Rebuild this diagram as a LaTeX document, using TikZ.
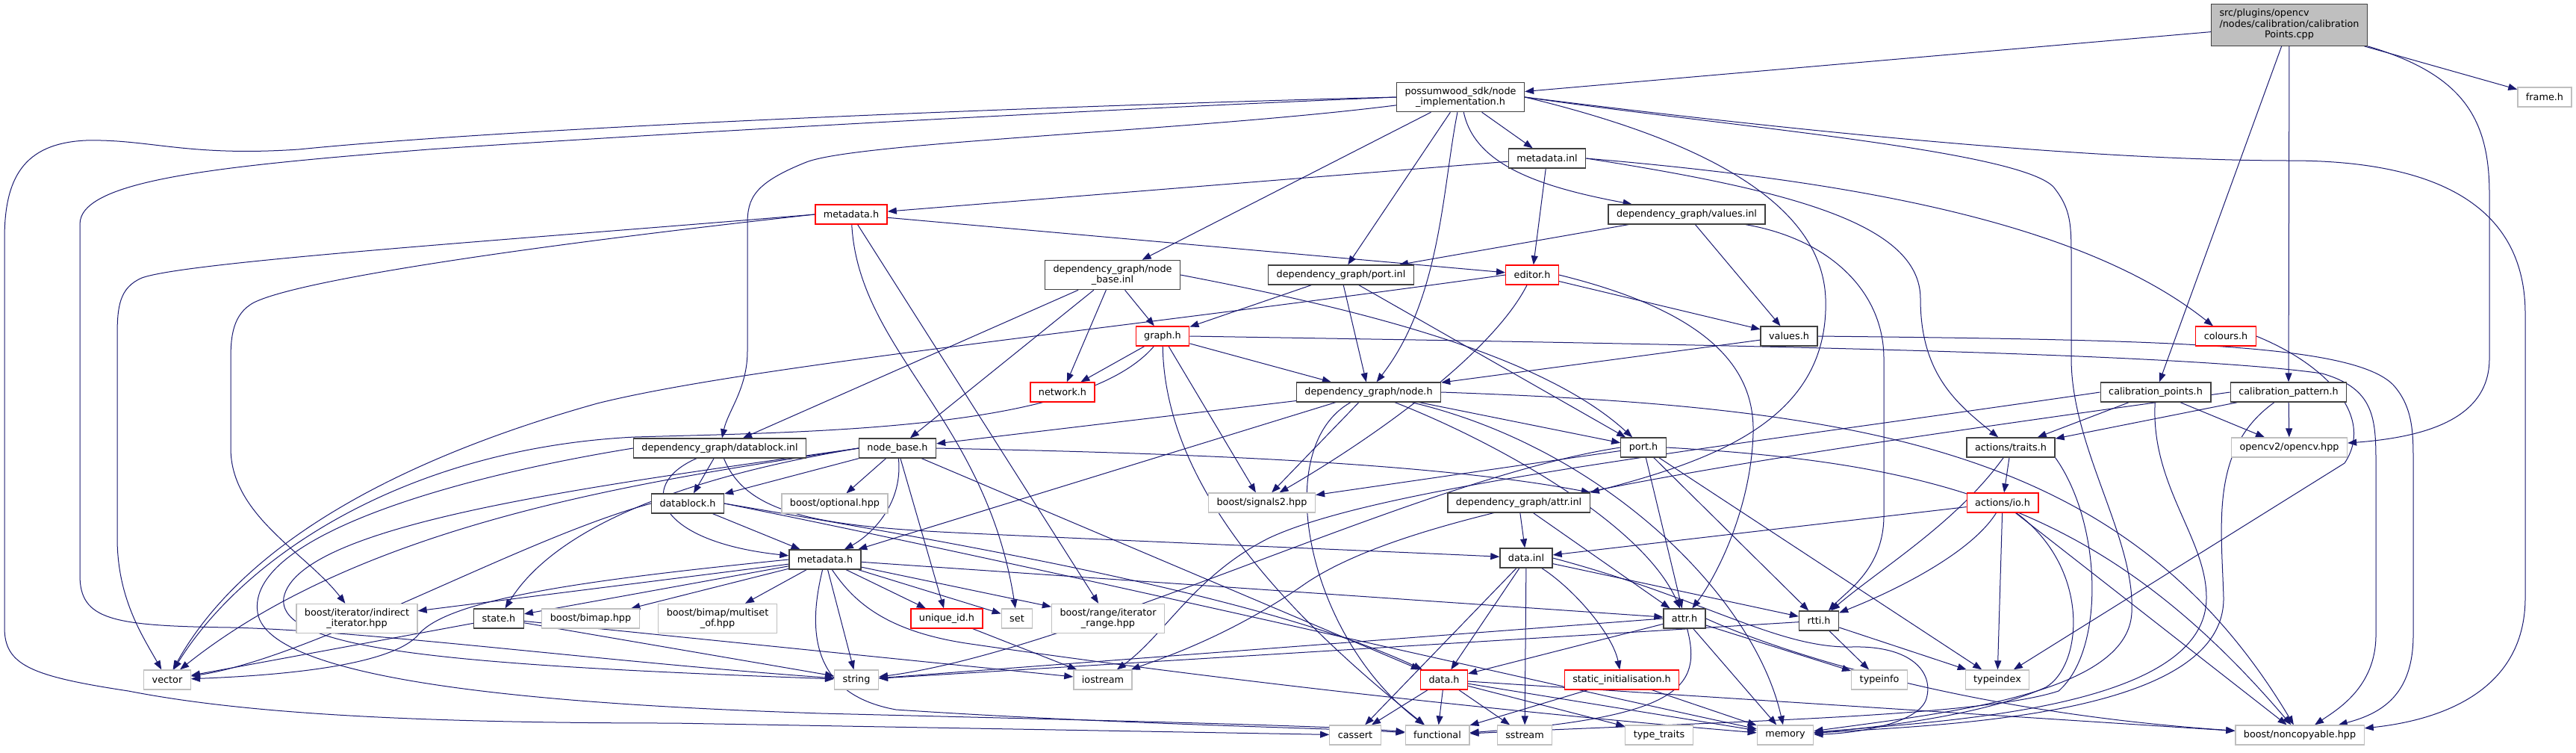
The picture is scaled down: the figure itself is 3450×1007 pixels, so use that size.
\documentclass[tikz,border=0pt]{standalone}
\usepackage{fontspec}
\setmainfont{DejaVu Sans}
\usetikzlibrary{arrows.meta}
\definecolor{edgeblue}{HTML}{191970}
\definecolor{docgray}{HTML}{404040}
\definecolor{extgray}{HTML}{BFBFBF}
\definecolor{truncred}{HTML}{FF0000}
\pgfdeclarelayer{edges}
\pgfsetlayers{edges,main}

\begin{document}
\begin{tikzpicture}[x=1pt, y=-1pt, every node/.style={font=\fontsize{12.8}{14.5}\selectfont}]
  \tikzset{
    docbox/.style={draw=docgray, fill=white, line width=1.3pt, inner xsep=11pt, inner ysep=6pt, minimum height=26pt, align=center},
    redbox/.style={docbox, draw=truncred},
    extbox/.style={docbox, draw=extgray},
    rootbox/.style={docbox, fill=extgray},
    inc/.style={draw=edgeblue, line width=1pt, -{Triangle[length=12pt, width=9pt]}}
  }
  \useasboundingbox (0,0) rectangle (3450,1007);

  % files
  \node[rootbox] (src) at (3066,33.5) {\begin{tabular}{@{}l@{}}src/plugins/opencv\\/nodes/calibration/calibration\\\multicolumn{1}{@{}c@{}}{Points.cpp}\end{tabular}};
  \node[extbox] (frameh) at (3408,130) {frame.h};
  \node[docbox] (nimpl) at (1956,130) {possumwood\_sdk/node\\\_implementation.h};
  \node[docbox] (metainl) at (2072,212) {metadata.inl};
  \node[redbox] (metared) at (1140,287) {metadata.h};
  \node[docbox] (valinl) at (2259,287) {dependency\_graph/values.inl};
  \node[docbox] (nbinl) at (1490,368) {dependency\_graph/node\\\_base.inl};
  \node[docbox] (portinl) at (1796,368) {dependency\_graph/port.inl};
  \node[redbox] (editor) at (2052,368) {editor.h};
  \node[redbox] (graphh) at (1557,450) {graph.h};
  \node[docbox] (valuesh) at (2396,450) {values.h};
  \node[redbox] (colours) at (2981,450) {colours.h};
  \node[redbox] (network) at (1423,525) {network.h};
  \node[docbox] (nodeh) at (1833,525) {dependency\_graph/node.h};
  \node[docbox] (calpts) at (2887,525) {calibration\_points.h};
  \node[docbox] (calpat) at (3065,525) {calibration\_pattern.h};
  \node[docbox] (dbinl) at (964,600) {dependency\_graph/datablock.inl};
  \node[docbox] (nodebase) at (1202,600) {node\_base.h};
  \node[docbox] (porth) at (2201,599) {port.h};
  \node[docbox] (traits) at (2693,599) {actions/traits.h};
  \node[extbox] (opencv) at (3066,599) {opencv2/opencv.hpp};
  \node[docbox] (dbh) at (921,674) {datablock.h};
  \node[extbox] (optional) at (1118,674) {boost/optional.hpp};
  \node[extbox] (signals) at (1690,673) {boost/signals2.hpp};
  \node[docbox] (attrinl) at (2034,673) {dependency\_graph/attr.inl};
  \node[redbox] (iohdr) at (2682,673) {actions/io.h};
  \node[docbox] (metablk) at (1105,749) {metadata.h};
  \node[docbox] (datainl) at (2044,747) {data.inl};
  \node[extbox] (indirect) at (478,828) {boost/iterator/indirect\\\_iterator.hpp};
  \node[docbox] (stateh) at (668,828) {state.h};
  \node[extbox] (bimap) at (791,828) {boost/bimap.hpp};
  \node[extbox] (multiset) at (961,828) {boost/bimap/multiset\\\_of.hpp};
  \node[redbox] (uniqueid) at (1268,828) {unique\_id.h};
  \node[extbox] (setx) at (1362,828) {set};
  \node[extbox] (irange) at (1484,828) {boost/range/iterator\\\_range.hpp};
  \node[docbox] (attrh) at (2256,828) {attr.h};
  \node[docbox] (rttih) at (2436,831) {rtti.h};
  \node[extbox] (vectorx) at (224,910) {vector};
  \node[extbox] (stringx) at (1147,910) {string};
  \node[extbox] (iostream) at (1477,910) {iostream};
  \node[redbox] (datah) at (1934,910) {data.h};
  \node[redbox] (staticinit) at (2172,910) {static\_initialisation.h};
  \node[extbox] (typeinfo) at (2517,910) {typeinfo};
  \node[extbox] (typeindex) at (2675,910) {typeindex};
  \node[extbox] (cassert) at (1815,984) {cassert};
  \node[extbox] (functional) at (1925,984) {functional};
  \node[extbox] (sstream) at (2042,984) {sstream};
  \node[extbox] (typetraits) at (2222,984) {type\_traits};
  \node[extbox] (memory) at (2391,984) {memory};
  \node[extbox] (noncopy) at (3080,984) {boost/noncopyable.hpp};

  \begin{pgfonlayer}{edges}
  % calibrationPoints.cpp
  \draw[inc] (src) -- (nimpl);
  \draw[inc] (src) -- (frameh);
  \draw[inc] (src) -- (calpts);
  \draw[inc] (src) -- (calpat);
  \draw[inc] (src.south east) .. controls (3300,100) and (3334,160) .. (3334,260) -- (3334,480) .. controls (3334,560) and (3250,585) .. (opencv);

  % node_implementation.h
  \draw[inc] (nimpl) -- (metainl);
  \draw[inc] (nimpl) .. controls (1975,220) and (2060,250) .. (valinl);
  \draw[inc] (nimpl) -- (portinl);
  \draw[inc] (nimpl) .. controls (1932,250) and (1930,400) .. (nodeh);
  \draw[inc] (nimpl) -- (nbinl);
  \draw[inc] (nimpl) .. controls (1600,175) and (1150,190) .. (1080,217) .. controls (1010,245) and (1001,265) .. (1001,300) -- (1001,470) .. controls (1001,520) and (975,550) .. (dbinl);
  \draw[inc] (nimpl.west) .. controls (1400,142) and (700,170) .. (400,200) .. controls (250,210) and (200,186) .. (115,188) .. controls (30,192) and (6,240) .. (6,320) -- (6,840) .. controls (6,890) and (40,905) .. (172,925) .. controls (300,950) and (500,968) .. (900,968) -- (cassert);
  \draw[inc] (nimpl.west) .. controls (1400,150) and (900,178) .. (574,200) .. controls (300,222) and (107,240) .. (107,300) -- (107,770) .. controls (107,830) and (150,838) .. (310,840) .. controls (500,845) and (800,885) .. (stringx);
  \draw[inc] (nimpl.east) .. controls (2400,175) and (2800,215) .. (3067,215) .. controls (3300,215) and (3382,300) .. (3382,420) -- (3382,800) .. controls (3382,930) and (3260,965) .. (noncopy);
  \draw[inc] (nimpl.east) .. controls (2300,168) and (2700,200) .. (2750,250) .. controls (2774,280) and (2774,300) .. (2774,350) -- (2774,480) .. controls (2774,600) and (2860,720) .. (2855,820) .. controls (2850,930) and (2600,955) .. (memory);
  \draw[inc] (nimpl.east) .. controls (2250,180) and (2440,260) .. (2445,400) .. controls (2450,560) and (2300,615) .. (attrinl.north east);

  % metadata.inl
  \draw[inc] (metainl) -- (metared);
  \draw[inc] (metainl) -- (editor);
  \draw[inc] (metainl.east) .. controls (2450,240) and (2780,290) .. (colours);
  \draw[inc] (metainl.east) .. controls (2400,255) and (2572,300) .. (2572,400) .. controls (2572,500) and (2620,540) .. (traits);

  % metadata.h (truncated)
  \draw[inc] (metared) -- (editor);
  \draw[inc] (metared) .. controls (1150,470) and (1320,560) .. (setx);
  \draw[inc] (metared) -- (irange);
  \draw[inc] (metared.west) .. controls (700,320) and (250,350) .. (190,372) .. controls (160,385) and (157,410) .. (157,450) -- (157,720) .. controls (157,800) and (190,850) .. (vectorx);
  \draw[inc] (metared.west) .. controls (700,330) and (400,375) .. (340,405) .. controls (312,420) and (309,450) .. (309,480) -- (309,600) .. controls (309,690) and (410,740) .. (indirect);

  % node_base.inl, values.inl, port.inl
  \draw[inc] (nbinl) -- (graphh);
  \draw[inc] (nbinl) -- (network);
  \draw[inc] (nbinl) -- (dbinl);
  \draw[inc] (nbinl) -- (nodebase);
  \draw[inc] (nbinl.east) .. controls (1800,410) and (2060,470) .. (porth);
  \draw[inc] (valinl) -- (portinl);
  \draw[inc] (valinl) -- (valuesh);
  \draw[inc] (valinl) .. controls (2450,320) and (2523,390) .. (2523,480) -- (2523,690) .. controls (2523,760) and (2475,790) .. (rttih);
  \draw[inc] (portinl) -- (graphh);
  \draw[inc] (portinl) -- (nodeh);
  \draw[inc] (portinl) -- (porth);

  % editor.h, values.h
  \draw[inc] (editor) -- (valuesh);
  \draw[inc] (editor.west) .. controls (1500,440) and (1000,490) .. (800,540) .. controls (550,610) and (330,720) .. (vectorx);
  \draw[inc] (editor.east) .. controls (2300,420) and (2350,500) .. (2348,580) .. controls (2345,680) and (2300,770) .. (attrh);
  \draw[inc] (editor) .. controls (2000,470) and (1850,580) .. (signals);
  \draw[inc] (valuesh) -- (nodeh);
  \draw[inc] (valuesh.east) .. controls (2900,455) and (3150,460) .. (3205,515) .. controls (3232,545) and (3232,580) .. (3232,620) -- (3232,850) .. controls (3232,930) and (3190,955) .. (noncopy);

  % graph.h, colours.h
  \draw[inc] (graphh) -- (network);
  \draw[inc] (graphh) -- (nodeh);
  \draw[inc] (graphh) -- (signals);
  \draw[inc] (graphh) .. controls (1560,650) and (1720,820) .. (functional);
  \draw[inc] (graphh) .. controls (1450,575) and (1100,578) .. (850,585) .. controls (550,600) and (330,740) .. (vectorx);
  \draw[inc] (graphh.east) .. controls (2200,460) and (2900,470) .. (3110,500) .. controls (3180,520) and (3182,560) .. (3182,620) -- (3182,850) .. controls (3182,920) and (3130,950) .. (noncopy);
  \draw[inc] (colours.east) .. controls (3120,490) and (3180,560) .. (3140,620) -- (typeindex);

  % node.h
  \draw[inc] (nodeh) -- (nodebase);
  \draw[inc] (nodeh) -- (metablk);
  \draw[inc] (nodeh) -- (signals);
  \draw[inc] (nodeh) -- (porth);
  \draw[inc] (nodeh) .. controls (2000,590) and (2200,700) .. (attrh);
  \draw[inc] (nodeh) .. controls (1700,600) and (1750,850) .. (functional);
  \draw[inc] (nodeh) .. controls (2150,600) and (2350,800) .. (memory);
  \draw[inc] (nodeh.east) .. controls (2500,545) and (2850,600) .. (noncopy);

  % calibration headers
  \draw[inc] (calpts) -- (traits);
  \draw[inc] (calpts) -- (opencv);
  \draw[inc] (calpts.west) .. controls (2300,600) and (1850,650) .. (1700,720) .. controls (1600,770) and (1560,850) .. (iostream);
  \draw[inc] (calpts) .. controls (2880,650) and (2955,720) .. (2955,800) .. controls (2955,950) and (2600,965) .. (memory);
  \draw[inc] (calpat) -- (traits);
  \draw[inc] (calpat) -- (opencv);
  \draw[inc] (calpat.west) .. controls (2300,620) and (1900,680) .. (1750,780) .. controls (1650,850) and (1560,880) .. (iostream);
  \draw[inc] (calpat) .. controls (2960,600) and (2975,700) .. (2978,800) .. controls (2980,960) and (2600,970) .. (memory);

  % actions
  \draw[inc] (traits) -- (iohdr);
  \draw[inc] (traits) .. controls (2620,700) and (2520,760) .. (rttih);
  \draw[inc] (traits.south east) .. controls (2815,700) and (2820,870) .. (2757,925) .. controls (2650,960) and (2300,966) .. (functional);
  \draw[inc] (iohdr) -- (datainl);
  \draw[inc] (iohdr) -- (typeindex);
  \draw[inc] (iohdr) .. controls (2640,740) and (2540,790) .. (rttih);
  \draw[inc] (iohdr) -- (noncopy);
  \draw[inc] (iohdr) .. controls (2800,760) and (2790,890) .. (2740,920) .. controls (2650,960) and (2500,975) .. (memory);

  % datablock.inl, node_base.h, datablock.h
  \draw[inc] (dbinl) -- (dbh);
  \draw[inc] (dbinl) .. controls (850,650) and (880,725) .. (metablk);
  \draw[inc] (dbinl) .. controls (1000,690) and (1100,705) .. (1300,714) .. controls (1600,728) and (1900,740) .. (datainl);
  \draw[inc] (dbinl.west) .. controls (600,640) and (330,720) .. (345,820) .. controls (360,920) and (800,945) .. (1100,955) .. controls (1500,965) and (1800,972) .. (functional);
  \draw[inc] (nodebase) -- (optional);
  \draw[inc] (nodebase) -- (dbh);
  \draw[inc] (nodebase) .. controls (1210,680) and (1160,720) .. (metablk);
  \draw[inc] (nodebase) -- (uniqueid);
  \draw[inc] (nodebase.west) .. controls (1000,625) and (760,680) .. (stateh);
  \draw[inc] (nodebase.west) .. controls (900,640) and (500,690) .. (vectorx);
  \draw[inc] (nodebase.west) .. controls (800,650) and (400,700) .. (380,800) .. controls (370,870) and (600,890) .. (stringx);
  \draw[inc] (nodebase) -- (datah);
  \draw[inc] (nodebase.east) .. controls (1500,605) and (1900,615) .. (attrinl.north east);
  \draw[inc] (dbh) -- (metablk);
  \draw[inc] (dbh.west) .. controls (700,720) and (420,880) .. (vectorx);
  \draw[inc] (dbh.east) .. controls (1300,730) and (1700,800) .. (datah);
  \draw[inc] (dbh.east) .. controls (1400,760) and (2000,900) .. (memory);

  % metadata.h
  \draw[inc] (metablk) -- (indirect);
  \draw[inc] (metablk) -- (stateh);
  \draw[inc] (metablk.west) .. controls (800,775) and (600,800) .. (560,850) .. controls (520,895) and (350,905) .. (vectorx);
  \draw[inc] (metablk) -- (bimap);
  \draw[inc] (metablk) -- (multiset);
  \draw[inc] (metablk) -- (uniqueid);
  \draw[inc] (metablk) -- (setx);
  \draw[inc] (metablk) -- (irange);
  \draw[inc] (metablk) -- (stringx);
  \draw[inc] (metablk) -- (attrh);
  \draw[inc] (metablk) .. controls (1080,850) and (1090,930) .. (1200,950) .. controls (1500,970) and (1800,975) .. (functional);
  \draw[inc] (metablk) .. controls (1140,800) and (1180,845) .. (1300,862) .. controls (1700,920) and (2100,960) .. (memory);

  % port.h
  \draw[inc] (porth) -- (signals);
  \draw[inc] (porth) -- (attrh);
  \draw[inc] (porth) -- (rttih);
  \draw[inc] (porth.west) .. controls (1900,640) and (1450,870) .. (stringx);
  \draw[inc] (porth.east) .. controls (2600,620) and (2820,680) .. (noncopy);
  \draw[inc] (porth) -- (typeindex);

  % attr.inl, data.inl
  \draw[inc] (attrinl) -- (datainl);
  \draw[inc] (attrinl) -- (attrh);
  \draw[inc] (datainl) -- (datah);
  \draw[inc] (datainl) -- (cassert);
  \draw[inc] (datainl) -- (sstream);
  \draw[inc] (datainl) .. controls (2110,790) and (2160,850) .. (staticinit);
  \draw[inc] (datainl) -- (rttih);
  \draw[inc] (datainl.east) .. controls (2280,800) and (2380,868) .. (2480,866) .. controls (2560,864) and (2590,900) .. (2580,935) .. controls (2570,970) and (2480,982) .. (memory);

  % attr.h, rtti.h
  \draw[inc] (attrh) -- (datah);
  \draw[inc] (attrh.west) -- (stringx);
  \draw[inc] (attrh) -- (typeinfo);
  \draw[inc] (attrh) -- (memory);
  \draw[inc] (attrh) .. controls (2280,920) and (2250,960) .. (functional);
  \draw[inc] (attrh.east) .. controls (2400,880) and (2650,955) .. (noncopy);
  \draw[inc] (rttih) -- (stringx);
  \draw[inc] (rttih) -- (typeinfo);
  \draw[inc] (rttih) -- (typeindex);

  % leaves
  \draw[inc] (datah) -- (cassert);
  \draw[inc] (datah) -- (functional);
  \draw[inc] (datah) -- (sstream);
  \draw[inc] (datah) -- (typetraits);
  \draw[inc] (datah) -- (memory);
  \draw[inc] (datah) -- (noncopy);
  \draw[inc] (staticinit) -- (functional);
  \draw[inc] (staticinit) -- (memory);
  \draw[inc] (uniqueid) -- (iostream);
  \draw[inc] (stateh) -- (vectorx);
  \draw[inc] (stateh) -- (stringx);
  \draw[inc] (stateh) -- (iostream);
  \end{pgfonlayer}
\end{tikzpicture}
\end{document}
